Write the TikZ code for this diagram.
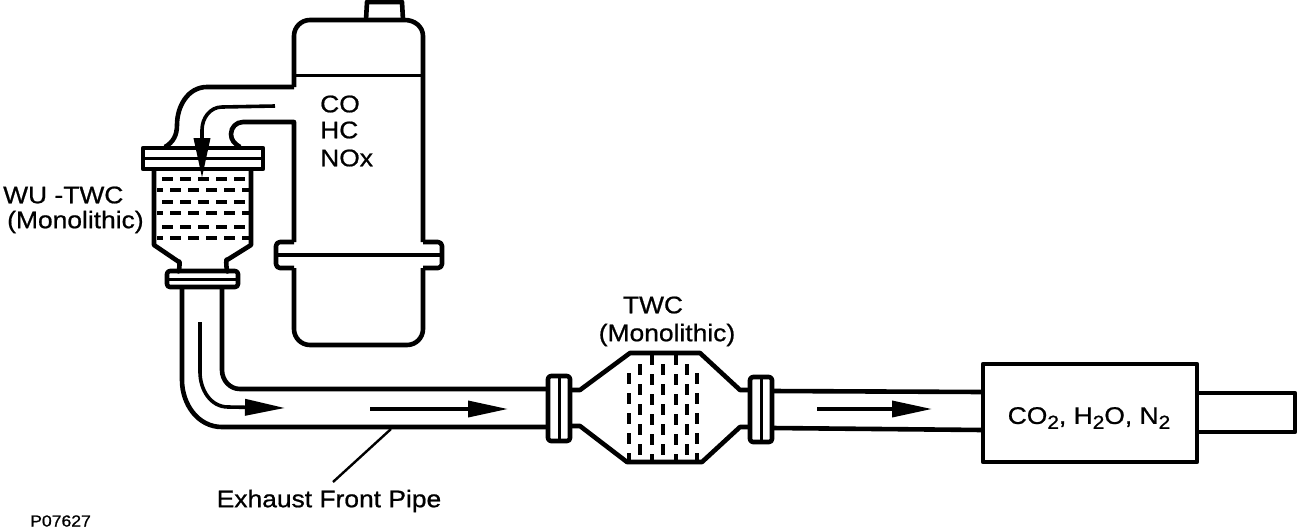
\documentclass[tikz,border=0pt]{standalone}
\usepackage{fontspec}
\setmainfont[FakeStretch=1.1, FakeBold=0.8]{Liberation Sans}
\usetikzlibrary{arrows.meta}
\newcommand{\gassub}[1]{\raisebox{-5pt}{\fontsize{19}{20}\selectfont #1}}
\tikzset{
    pipeline/.style={line width=4.6pt, line join=round},
    thinline/.style={line width=3pt},
    flowline/.style={line width=3.6pt, -{Triangle[length=40pt, width=16pt]}},
    packdash/.style={line width=3.8pt, dash pattern=on 11pt off 7pt},
    partlabel/.style={inner sep=0pt, font=\fontsize{24}{26}\selectfont},
}

\begin{document}
\begin{tikzpicture}[x=1pt, y=-1pt]
    \useasboundingbox (0,0) rectangle (1312,528);

    % upper tank with cap and side pipe
    \draw[pipeline] (366,20) -- (367,2) -- (402,2) -- (403,20);
    \draw[pipeline] (294,87) -- (207,87) to[out=180, in=90] (177,125) to[out=-90, in=30] (165,147);
    \draw[pipeline] (294,87) -- (294,36) to[out=90, in=180] (310,20) -- (405,20) to[out=0, in=90] (423,36) -- (423,242);
    \draw[thinline] (294,75) -- (423,75);
    \draw[pipeline] (240,147) to[out=150, in=-90] (231,134) to[out=90, in=180] (243,122) -- (294,122) -- (294,242);
    \draw[pipeline, rounded corners=4pt] (294,242) -- (276,242) -- (276,268) -- (294,268);
    \draw[pipeline, rounded corners=4pt] (423,242) -- (442,242) -- (442,268) -- (423,268);
    \draw[pipeline] (276,255) -- (442,255);
    \draw[pipeline, rounded corners=16pt] (294,268) -- (294,345) -- (423,345) -- (423,268);

    % warm-up converter
    \draw[pipeline] (143,148) rectangle (263,169);
    \draw[thinline] (143,158) -- (263,158);
    \draw[pipeline] (154,169) -- (154,245) -- (179,262) to[out=70, in=-70] (178,271);
    \draw[pipeline] (251,169) -- (251,245) -- (227,260) to[out=110, in=-110] (228,271);
    \draw[pipeline, rounded corners=3pt] (167,271) rectangle (238,287);
    \draw[thinline] (167,279) -- (238,279);
    \foreach \rowy/\startx/\stopx/\phase in {179/162/245/0, 190/157/249/5, 202/162/245/0, 213/157/249/5, 227/162/245/0, 238/157/249/5}
        \draw[packdash, dash phase=\phase pt] (\startx,\rowy) -- (\stopx,\rowy);
    \draw[flowline] (275,106) -- (222,107) to[out=180, in=90] (202,130) -- (202,178);

    % front pipe
    \draw[pipeline] (182,287) -- (182,380) to[out=-90, in=180] (222,427) -- (549,427);
    \draw[pipeline] (222,287) -- (222,370) to[out=-90, in=180] (240,389) -- (549,389);
    \draw[flowline] (200,322) -- (200,372) to[out=-90, in=180] (228,407) -- (285,408);
    \draw[flowline] (370,409) -- (508,409);

    % main converter
    \draw[pipeline, rounded corners=3pt] (548,376) rectangle (570,441);
    \draw[thinline] (559,376) -- (559,441);
    \draw[pipeline, rounded corners=3pt] (750,377) rectangle (772,442);
    \draw[thinline] (761,377) -- (761,442);
    \draw[pipeline] (570,390) -- (580,390) -- (630,353) -- (700,353) -- (740,390) -- (750,390);
    \draw[pipeline] (570,426) -- (580,426) -- (627,462) -- (702,462) -- (740,427) -- (750,427);
    \foreach \colx/\starty in {629/373, 640/364, 652/354, 663/364, 676/354, 687/364, 697/373}
        \draw[packdash, dash pattern=on 11pt off 9pt] (\colx,\starty) -- (\colx,462);

    % tail section
    \draw[pipeline] (772,391) -- (983,392);
    \draw[pipeline] (772,428) -- (983,430);
    \draw[flowline] (817,409) -- (932,409);
    \draw[pipeline] (983,364) rectangle (1197,462);
    \draw[pipeline] (1197,393) -- (1295,393) -- (1295,432) -- (1197,432);

    % labels
    \node[partlabel, anchor=west] (colabel) at (320,104) {CO};
    \node[partlabel, anchor=west] (hclabel) at (320,130) {HC};
    \node[partlabel, anchor=west] (noxlabel) at (320,158) {NOx};
    \node[partlabel, anchor=west] (wulabel) at (3,195) {WU -TWC};
    \node[partlabel, anchor=west] (wumono) at (7,222) {(Monolithic)};
    \node[partlabel] (twclabel) at (653,305) {TWC};
    \node[partlabel] (twcmono) at (667,335) {(Monolithic)};
    \node[partlabel] (gaslabel) at (1089,418) {CO\gassub{2}, H\gassub{2}O, N\gassub{2}};
    \node[partlabel] (pipelabel) at (329,501) {Exhaust Front Pipe};
    \node[inner sep=0pt, font=\fontsize{16}{18}\selectfont, anchor=west] (figlabel) at (30,521) {P07627};

    \coordinate (pipeedge) at (391,429);
    \draw[line width=2.4pt] (pipeedge) -- (333,482);
\end{tikzpicture}
\end{document}
